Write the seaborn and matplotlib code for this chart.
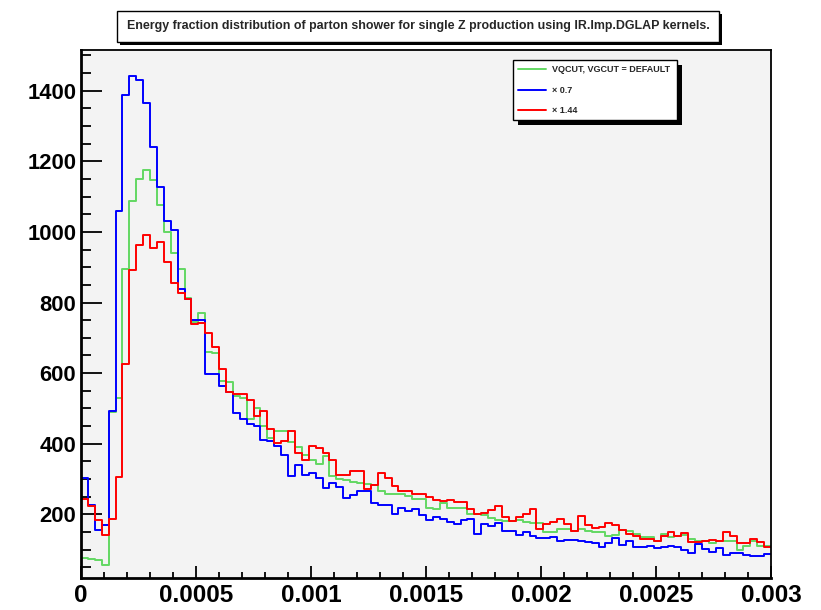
import numpy as np
import pandas as pd
import matplotlib
matplotlib.use("Agg")
import matplotlib.pyplot as plt
from matplotlib import font_manager
from matplotlib.patches import Rectangle
from matplotlib.ticker import MultipleLocator, FixedLocator
import seaborn as sns

# histogram contents, 100 bins between 0 and 0.003
nbins = 100
xmin, xmax = 0.0, 0.003

default_counts = [
    77, 74, 70, 58, 490, 529, 896, 1088, 1149, 1174,
    1146, 1077, 1000, 941, 896, 812, 744, 770, 661, 657,
    579, 574, 534, 531, 471, 501, 450, 415, 437, 435,
    404, 390, 368, 355, 342, 366, 310, 299, 297, 293,
    290, 287, 282, 265, 258, 258, 257, 252, 243, 245,
    218, 216, 233, 218, 218, 217, 202, 201, 199, 190,
    185, 180, 180, 184, 178, 177, 177, 150, 150, 160,
    160, 153, 160, 153, 150, 150, 138, 141, 157, 153,
    145, 136, 136, 124, 145, 136, 140, 143, 131, 124,
    124, 119, 124, 124, 124, 98, 112, 126, 112, 112,
]

x07_counts = [
    302, 228, 155, 171, 493, 1058, 1389, 1440, 1431, 1364,
    1240, 1128, 1031, 1005, 838, 811, 751, 750, 597, 599,
    564, 548, 488, 470, 455, 450, 410, 409, 393, 368,
    309, 340, 313, 316, 303, 275, 289, 278, 247, 256,
    266, 267, 231, 226, 228, 200, 219, 209, 216, 198,
    185, 193, 188, 179, 172, 185, 188, 145, 174, 167,
    176, 153, 153, 141, 150, 140, 133, 133, 136, 125,
    129, 129, 124, 122, 119, 109, 120, 134, 114, 124,
    108, 108, 111, 105, 108, 111, 108, 98, 90, 117,
    103, 94, 105, 84, 90, 90, 84, 82, 82, 87,
]

x144_counts = [
    245, 223, 183, 141, 187, 306, 625, 892, 964, 991,
    953, 972, 914, 856, 827, 811, 739, 742, 714, 673,
    612, 548, 541, 541, 524, 480, 494, 441, 401, 408,
    436, 375, 354, 395, 388, 375, 355, 313, 313, 323,
    322, 273, 283, 318, 303, 280, 267, 267, 258, 257,
    249, 241, 237, 242, 235, 236, 214, 202, 204, 213,
    224, 194, 180, 193, 202, 214, 159, 174, 178, 188,
    174, 152, 195, 169, 162, 164, 176, 169, 157, 145,
    138, 131, 131, 126, 140, 150, 140, 147, 123, 123,
    126, 128, 126, 150, 140, 119, 119, 131, 122, 109,
]

series = [
    ("VQCUT, VGCUT = DEFAULT", default_counts, "#63d863"),
    ("\u00d7 0.7", x07_counts, "#0000ff"),
    ("\u00d7 1.44", x144_counts, "#ff0000"),
]

title = ("Energy fraction distribution of parton shower for single Z "
         "production using IR.Imp.DGLAP kernels.")

# fonts
names = {f.name for f in font_manager.fontManager.ttflist}
base_font = "Liberation Sans" if "Liberation Sans" in names else "DejaVu Sans"

sns.set_style("white")
plt.rcParams["font.family"] = [base_font, "DejaVu Sans"]

W, H = 821, 610
fig = plt.figure(figsize=(W / 100, H / 100), dpi=100)
fig.patch.set_facecolor("white")

# frame in pixels: left 81, right 771, top 50, bottom 578
ax = fig.add_axes([81 / W, 1 - 578 / H, (771 - 81) / W, (578 - 50) / H])
ax.set_facecolor("#f3f3f3")

edges = np.linspace(xmin, xmax, nbins + 1)
centers = 0.5 * (edges[:-1] + edges[1:])

for label, counts, col in series:
    df = pd.DataFrame({"x": centers, "w": counts})
    sns.histplot(data=df, x="x", weights="w", bins=list(edges), element="step",
                 fill=False, color=col, linewidth=1.4, label=label, ax=ax)

ax.set_xlim(xmin, xmax)
ax.set_ylim(20, 1515)
ax.set_xlabel("")
ax.set_ylabel("")

ax.xaxis.set_major_locator(FixedLocator([0, 0.0005, 0.001, 0.0015, 0.002, 0.0025, 0.003]))
ax.set_xticklabels(["0", "0.0005", "0.001", "0.0015", "0.002", "0.0025", "0.003"])
ax.xaxis.set_minor_locator(MultipleLocator(0.0001))
ax.yaxis.set_major_locator(MultipleLocator(200))
ax.yaxis.set_minor_locator(MultipleLocator(50))

ax.tick_params(axis="both", which="both", direction="in", colors="black",
               top=False, right=False, left=True, bottom=True)
ax.tick_params(axis="y", which="major", length=15, width=1.3, pad=3.5,
               labelsize=15.8)
ax.tick_params(axis="y", which="minor", length=7.5, width=1.3)
ax.tick_params(axis="x", which="major", length=9, width=1.3, pad=4,
               labelsize=17.5)
ax.tick_params(axis="x", which="minor", length=4.5, width=1.3)
for lab in ax.get_xticklabels() + ax.get_yticklabels():
    lab.set_fontweight("bold")

for side in ["left", "bottom"]:
    ax.spines[side].set_linewidth(2.0)
for side in ["top", "right"]:
    ax.spines[side].set_linewidth(1.3)
for sp in ax.spines.values():
    sp.set_color("black")
    sp.set_visible(True)

# legend box with solid shadow
lx0, lx1, ly0, ly1 = 513, 677, 60, 120
leg = ax.legend(loc="upper left", mode="expand",
                bbox_to_anchor=(lx0 / W, 1 - ly1 / H, (lx1 - lx0) / W, (ly1 - ly0) / H),
                bbox_transform=fig.transFigure, borderaxespad=0,
                fancybox=False, framealpha=1, edgecolor="black",
                prop={"weight": "bold", "size": 6.5},
                handlelength=3.0, handletextpad=0.75, labelspacing=1.25,
                borderpad=0.6)
leg.get_frame().set_linewidth(1.0)
leg.get_frame().set_facecolor("white")
leg.set_zorder(6)
for line in leg.get_lines():
    line.set_linewidth(1.4)
ax.add_patch(Rectangle((lx0 + 5, H - ly1 - 5), lx1 - lx0, ly1 - ly0,
                       transform=None, facecolor="black", edgecolor="none",
                       clip_on=False, zorder=5.5))

# title box with shadow
tx0, tx1, ty0, ty1 = 117, 719, 11, 42
fig.patches.append(Rectangle(((tx0 + 3) / W, 1 - (ty1 + 3) / H), (tx1 - tx0) / W,
                             (ty1 - ty0) / H, transform=fig.transFigure,
                             facecolor="black", edgecolor="none", zorder=1))
fig.patches.append(Rectangle((tx0 / W, 1 - ty1 / H), (tx1 - tx0) / W,
                             (ty1 - ty0) / H, transform=fig.transFigure,
                             facecolor="white", edgecolor="black",
                             linewidth=1.0, zorder=2))
fig.text((tx0 + tx1) / 2 / W, 1 - (ty0 + ty1) / 2 / H, title,
         ha="center", va="center", fontsize=8.9, fontweight="bold", zorder=3)

fig.savefig("out.png", dpi=100)
